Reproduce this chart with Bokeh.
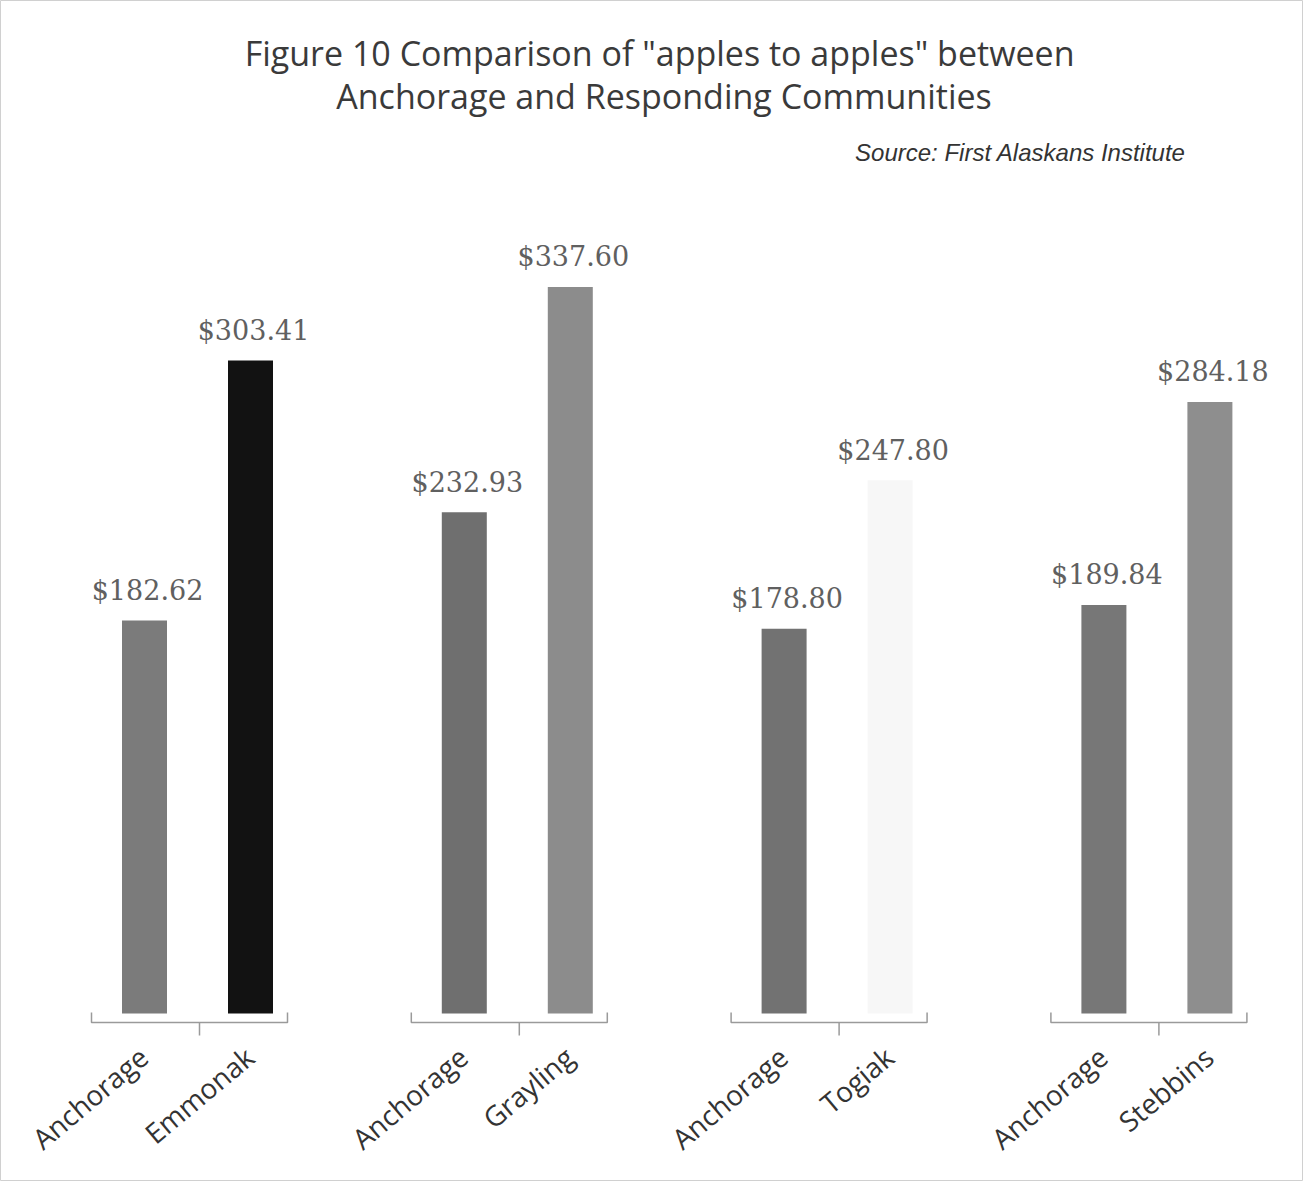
from bokeh.plotting import figure
from bokeh.models import Range1d, ColumnDataSource
from bokeh.core.properties import value
from bokeh.embed import file_html
from bokeh.resources import INLINE
import numpy as np

# ---- data ----
communities = ["Emmonak", "Grayling", "Togiak", "Stebbins"]
anchorage_label = "Anchorage"
anchorage_values = [182.62, 232.93, 178.80, 189.84]
community_values = [303.41, 337.60, 247.80, 284.18]
anchorage_colors = ["#7b7b7b", "#6f6f6f", "#727272", "#777777"]
community_colors = ["#121212", "#8c8c8c", "#f7f7f7", "#8e8e8e"]

title_lines = ["Figure 10  Comparison of \"apples to apples\" between",
               "Anchorage and Responding Communities"]
source_text = "Source:  First Alaskans Institute"

W, H = 1303, 1181
PX_PER_UNIT_Y = 2.152
BASE_PX = 1013
GROUP_STEP_PX = 319.8
FIRST_CENTER_PX = 197

p = figure(width=W, height=H, output_backend="svg", toolbar_location=None,
           min_border=0, min_border_left=0, min_border_right=0,
           min_border_top=0, min_border_bottom=0)
p.x_range = Range1d(-FIRST_CENTER_PX / GROUP_STEP_PX, (W - FIRST_CENTER_PX) / GROUP_STEP_PX)
p.y_range = Range1d(-(H - BASE_PX) / PX_PER_UNIT_Y, BASE_PX / PX_PER_UNIT_Y)
p.axis.visible = False
p.grid.visible = False
p.outline_line_color = "#d0d0d0"
p.background_fill_color = "white"
p.border_fill_color = "white"

n = len(communities)
g = np.arange(n)
off = 53 / GROUP_STEP_PX
bw = 45 / GROUP_STEP_PX

xa = g - off
xc = g + off

src_a = ColumnDataSource(dict(x=xa, top=anchorage_values, color=anchorage_colors,
                              lab=["${:.2f}".format(v) for v in anchorage_values]))
src_c = ColumnDataSource(dict(x=xc, top=community_values, color=community_colors,
                              lab=["${:.2f}".format(v) for v in community_values]))

p.vbar(x="x", top="top", bottom=0, width=bw, fill_color="color", line_color=None, source=src_a)
p.vbar(x="x", top="top", bottom=0, width=bw, fill_color="color", line_color=None, source=src_c)

for s in (src_a, src_c):
    p.text(x="x", y="top", text="lab", source=s, y_offset=-30, x_offset=3,
           text_align="center", text_baseline="middle",
           text_font=value("DejaVu Serif"), text_font_size="27px", text_color="#606060")

# brackets
left = 106 / GROUP_STEP_PX
right = 90 / GROUP_STEP_PX
mid = 2 / GROUP_STEP_PX
y_h = -9 / PX_PER_UNIT_Y
y_up = 1 / PX_PER_UNIT_Y
y_dn = -22 / PX_PER_UNIT_Y
xs, ys = [], []
for gi in g:
    xs.append([gi - left, gi - left, gi + right, gi + right])
    ys.append([y_up, y_h, y_h, y_up])
    xs.append([gi + mid, gi + mid])
    ys.append([y_h, y_dn])
p.multi_line(xs=xs, ys=ys, line_color="#9a9a9a", line_width=1.5)

# category labels (rotated)
cat_x = list(xa) + list(xc)
cat_t = [anchorage_label] * n + communities
p.text(x=cat_x, y=[-39 / PX_PER_UNIT_Y] * (2 * n), text=cat_t, x_offset=-1,
       angle=np.deg2rad(40), text_align="right", text_baseline="middle",
       text_font=value("Open Sans"), text_font_size="28px", text_color="#333333")

# title and source
ytop = p.y_range.end
p.text(x=[(W / 2 + 12 - FIRST_CENTER_PX) / GROUP_STEP_PX] * 2,
       y=[ytop - 52 / PX_PER_UNIT_Y, ytop - 95 / PX_PER_UNIT_Y],
       text=title_lines, text_align="center", text_baseline="middle",
       text_font=value("Open Sans"), text_font_size="34px", text_color="#3a3a3a")
p.text(x=[(1192 - FIRST_CENTER_PX) / GROUP_STEP_PX], y=[ytop - 152 / PX_PER_UNIT_Y],
       text=[source_text], text_align="right", text_baseline="middle",
       text_font=value("Liberation Sans"), text_font_style="italic",
       text_font_size="24px", text_color="#333333")

open("out.html", "w").write(file_html(p, INLINE))
